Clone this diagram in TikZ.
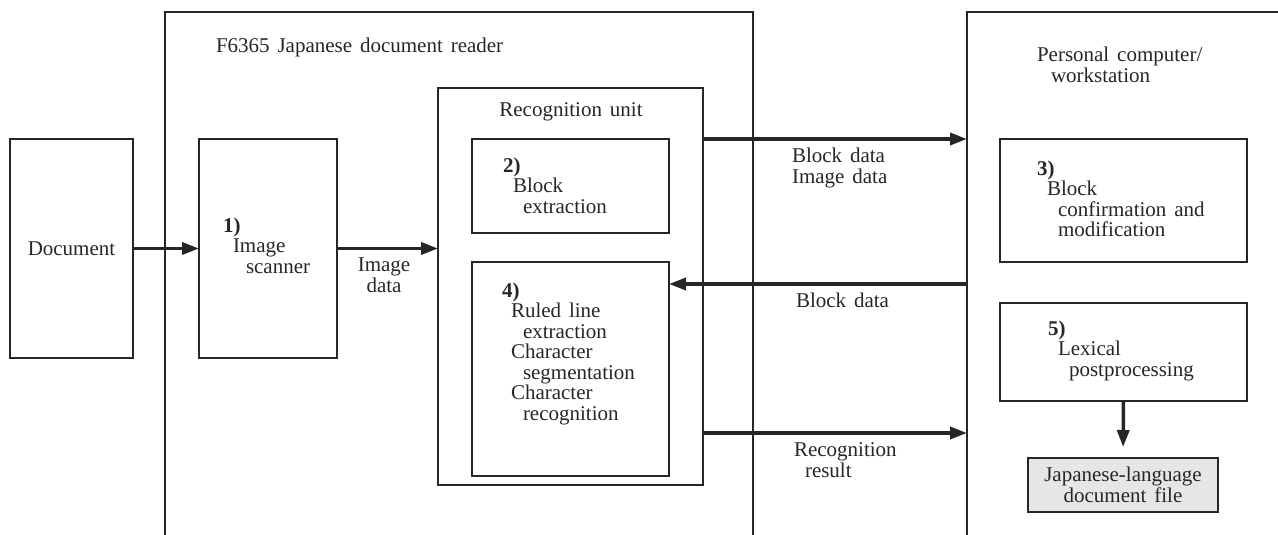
\documentclass[tikz,border=0pt]{standalone}
\usepackage{fontspec}
\setmainfont[WordSpace=1.5]{Liberation Serif}
\usetikzlibrary{arrows.meta}
\definecolor{ink}{HTML}{262626}
\definecolor{filegray}{HTML}{E6E6E6}
\begin{document}
\begin{tikzpicture}[x=1pt,y=-1pt,
  box/.style={draw=ink, line width=1.5pt, inner sep=0pt, outer sep=0pt, anchor=north west},
  lbl/.style={inner sep=0pt, outer sep=0pt, align=left, anchor=north west, text=ink, font=\fontsize{21}{20.5}\selectfont},
  clbl/.style={inner sep=0pt, outer sep=0pt, align=center, text=ink, font=\fontsize{21}{20.5}\selectfont},
  frame/.style={draw=ink, line width=1.5pt},
  arr/.style={draw=ink, line width=3.5pt, -{Triangle[length=17pt,width=12pt]}},
]
\useasboundingbox (0,0) rectangle (1278,535);
% outer frames (open at the bottom / right)
\draw[frame] (165,535) -- (165,12) -- (753,12) -- (753,535);
\draw[frame] (967,535) -- (967,12) -- (1278,12);
\coordinate (pcA) at (967,139);
\coordinate (pcB) at (967,284);
\coordinate (pcC) at (967,433);
% boxes
\node[box, minimum width=123, minimum height=219] (doc) at (10,139) {};
\node[box, minimum width=138, minimum height=219] (scan) at (199,139) {};
\node[box, minimum width=265, minimum height=397] (rec) at (438,88) {};
\node[box, minimum width=197, minimum height=94] (bext) at (472,139) {};
\node[box, minimum width=197, minimum height=214] (ruled) at (472,262) {};
\node[box, minimum width=247, minimum height=123] (bconf) at (1000,139) {};
\node[box, minimum width=247, minimum height=98] (lex) at (1000,303) {};
\node[box, fill=filegray, minimum width=190, minimum height=54] (jfile) at (1028,458) {};
% texts
\node[clbl] (tdoc) at (doc.center) {Document};
\node[lbl] (treader) at (216,38) {F6365 Japanese document reader};
\node[clbl] (trec) at (571,112) {Recognition unit};
\node[lbl] (tpc) at (1037,47) {Personal computer/\\\hspace*{14pt}workstation};
\node[lbl] (tscan) at (223,217.5) {\textbf{1)}\\\hspace*{10pt}Image\\\hspace*{23pt}scanner};
\node[clbl] (timg) at (384,275) {Image\\data};
\node[lbl] (tbext) at (503,157.5) {\textbf{2)}\\\hspace*{10pt}Block\\\hspace*{20pt}extraction};
\node[lbl] (truled) at (502,282.5) {\textbf{4)}\\\hspace*{9pt}Ruled line\\\hspace*{21pt}extraction\\\hspace*{9pt}Character\\\hspace*{21pt}segmentation\\\hspace*{9pt}Character\\\hspace*{21pt}recognition};
\node[lbl] (tbd1) at (792,148) {Block data\\Image data};
\node[lbl] (tbd2) at (796,293) {Block data};
\node[lbl] (trr) at (794,443) {Recognition\\\hspace*{11pt}result};
\node[lbl] (tbconf) at (1037,160.5) {\textbf{3)}\\\hspace*{10pt}Block\\\hspace*{21pt}confirmation and\\\hspace*{21pt}modification};
\node[lbl] (tlex) at (1048,320.5) {\textbf{5)}\\\hspace*{10pt}Lexical\\\hspace*{21pt}postprocessing};
\node[clbl] (tjfile) at (jfile.center) {Japanese-language\\document file};
% connectors
\draw[arr] (doc.east) -- (scan.west);
\draw[arr] (scan.east) -- (scan.east -| rec.west);
\draw[arr] (pcA -| rec.east) -- (pcA);
\draw[arr] (pcB) -- (pcB -| ruled.east);
\draw[arr] (pcC -| rec.east) -- (pcC);
\draw[arr, shorten >=11pt] (lex.south) -- (jfile.north);
\end{tikzpicture}
\end{document}
